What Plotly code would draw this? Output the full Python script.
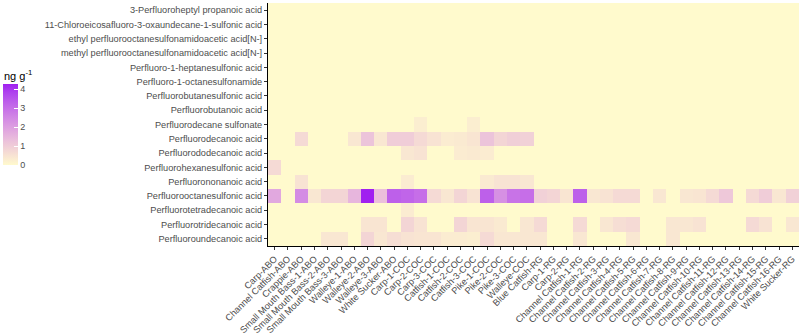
import plotly.graph_objects as go
import numpy as np

compounds = [
    "3-Perfluoroheptyl propanoic acid",
    "11-Chloroeicosafluoro-3-oxaundecane-1-sulfonic acid",
    "ethyl perfluorooctanesulfonamidoacetic acid[N-]",
    "methyl perfluorooctanesulfonamidoacetic acid[N-]",
    "Perfluoro-1-heptanesulfonic acid",
    "Perfluoro-1-octanesulfonamide",
    "Perfluorobutanesulfonic acid",
    "Perfluorobutanoic acid",
    "Perfluorodecane sulfonate",
    "Perfluorodecanoic acid",
    "Perfluorododecanoic acid",
    "Perfluorohexanesulfonic acid",
    "Perfluorononanoic acid",
    "Perfluorooctanesulfonic acid",
    "Perfluorotetradecanoic acid",
    "Perfluorotridecanoic acid",
    "Perfluoroundecanoic acid",
]

samples = [
    "Carp-ABO", "Channel Catfish-ABO", "Crappie-ABO", "Small Mouth Bass-1-ABO",
    "Small Mouth Bass-2-ABO", "Small Mouth Bass-3-ABO", "Walleye-1-ABO", "Walleye-2-ABO",
    "Walleye-3-ABO", "White Sucker-ABO",
    "Carp-1-COC", "Carp-2-COC", "Carp-3-COC", "Catfish-1-COC", "Catfish-2-COC",
    "Catfish-3-COC", "Pike-1-COC", "Pike-2-COC", "Pike-3-COC", "Walleye-COC",
    "Blue Catfish-RG", "Carp-1-RG", "Carp-2-RG",
    "Channel Catfish-1-RG", "Channel Catfish-2-RG", "Channel Catfish-3-RG",
    "Channel Catfish-4-RG", "Channel Catfish-5-RG", "Channel Catfish-6-RG",
    "Channel Catfish-7-RG", "Channel Catfish-8-RG", "Channel Catfish-9-RG",
    "Channel Catfish-10-RG", "Channel Catfish-11-RG", "Channel Catfish-12-RG",
    "Channel Catfish-13-RG", "Channel Catfish-14-RG", "Channel Catfish-15-RG",
    "Channel Catfish-16-RG", "White Sucker-RG",
]

# concentrations (ng/g), sparse: {sample index: value}
zero_row = {}
decane_sulfonate = {11: 0.25, 15: 0.25}
decanoic = {2: 0.7, 6: 0.4, 7: 1.2, 8: 0.4, 9: 1.0, 10: 1.0, 11: 0.7, 12: 0.5, 13: 0.3,
            14: 0.35, 15: 0.45, 16: 1.2, 17: 0.8, 18: 0.95, 19: 0.9}
dodecanoic = {10: 0.4, 11: 0.5, 14: 0.3, 15: 0.35, 16: 0.3}
hexanesulfonic = {0: 0.7}
nonanoic = {2: 0.5, 10: 0.3, 16: 0.35, 17: 0.5, 18: 0.5, 19: 0.4}
octanesulfonic = {0: 1.8, 2: 2.4, 3: 0.4, 4: 0.8, 5: 0.8, 6: 1.5, 7: 4.27, 8: 1.3, 9: 3.3,
                  10: 3.2, 11: 3.0, 12: 0.7, 13: 0.4, 14: 0.8, 15: 0.5, 16: 3.3, 17: 2.3,
                  18: 2.9, 19: 3.0, 20: 0.9, 21: 0.8, 22: 0.45, 23: 3.3, 24: 0.4, 25: 0.5,
                  26: 0.7, 27: 0.7, 29: 0.4, 31: 0.4, 32: 0.45, 33: 0.7, 34: 1.1, 36: 0.7,
                  37: 1.0, 38: 0.4, 39: 0.9}
tetradecanoic = {10: 0.3}
tridecanoic = {7: 0.45, 8: 0.45, 10: 0.8, 11: 0.5, 14: 0.8, 15: 0.45, 16: 0.45, 17: 0.35,
               19: 0.4, 20: 0.7, 23: 0.7, 25: 0.4, 26: 0.6, 27: 0.7, 30: 0.4, 31: 0.4,
               32: 0.5, 36: 0.7, 37: 0.5, 39: 0.4}
undecanoic = {4: 0.4, 5: 0.4, 7: 0.8, 8: 0.4, 9: 0.6, 10: 0.5, 11: 0.45, 12: 0.45, 13: 0.3,
              14: 0.3, 15: 0.25, 16: 0.7, 17: 0.4, 18: 0.4, 19: 0.4, 20: 0.4, 23: 0.4,
              27: 0.4, 30: 0.4}

rows = [zero_row] * 8 + [decane_sulfonate, decanoic, dodecanoic, hexanesulfonic, nonanoic,
                         octanesulfonic, tetradecanoic, tridecanoic, undecanoic]
z = [[r.get(i, 0.0) for i in range(len(samples))] for r in rows]


# Lab interpolation (like ggplot's gradient) between low and high colours
def hex2rgb(h):
    h = h.lstrip("#")
    return [int(h[i:i + 2], 16) / 255 for i in (0, 2, 4)]

def srgb2lin(c):
    return [x / 12.92 if x <= 0.04045 else ((x + 0.055) / 1.055) ** 2.4 for x in c]

def lin2srgb(c):
    return [12.92 * x if x <= 0.0031308 else 1.055 * x ** (1 / 2.4) - 0.055 for x in c]

M = np.array([[0.4124, 0.3576, 0.1805], [0.2126, 0.7152, 0.0722], [0.0193, 0.1192, 0.9505]])
WP = np.array([0.95047, 1.0, 1.08883])

def f(t):
    return t ** (1 / 3) if t > (6 / 29) ** 3 else t / (3 * (6 / 29) ** 2) + 4 / 29

def finv(t):
    return t ** 3 if t > 6 / 29 else 3 * (6 / 29) ** 2 * (t - 4 / 29)

def rgb2lab(c):
    xyz = M @ np.array(srgb2lin(c)) / WP
    fx, fy, fz = [f(v) for v in xyz]
    return np.array([116 * fy - 16, 500 * (fx - fy), 200 * (fy - fz)])

def lab2rgb(lab):
    L, a, b = lab
    fy = (L + 16) / 116
    fx = fy + a / 500
    fz = fy - b / 200
    xyz = np.array([finv(fx), finv(fy), finv(fz)]) * WP
    lin = np.linalg.solve(M, xyz)
    lin = np.clip(lin, 0, 1)
    s = lin2srgb(list(lin))
    return "rgb(%d,%d,%d)" % tuple(int(round(255 * min(max(v, 0), 1))) for v in s)

lo = rgb2lab(hex2rgb("#FFFACD"))
hi = rgb2lab(hex2rgb("#A020F0"))
colorscale = [[t, lab2rgb(lo + (hi - lo) * t)] for t in np.linspace(0, 1, 11)]

# layout geometry (pixels)
W, H = 800, 336
L_M, R_M, T_M, B_M = 268, 1, 3, 88
PW, PH = W - L_M - R_M, H - T_M - B_M

def px_x(px):
    return (px - L_M) / PW

def px_y(py):
    return (H - B_M - py) / PH

fig = go.Figure(go.Heatmap(
    z=z, x=samples, y=compounds,
    colorscale=colorscale, zmin=0, zmax=max(max(r) for r in z),
    xgap=0, ygap=0,
    colorbar=dict(
        x=px_x(3), xanchor="left", y=px_y(125.5), yanchor="middle",
        len=81, lenmode="pixels", thickness=15, thicknessmode="pixels",
        tickvals=[0, 1, 2, 3, 4], ticks="inside", tickcolor="white", ticklen=4,
        tickfont=dict(size=9, color="#4D4D4D"), outlinewidth=0, xpad=0, ypad=0,
    ),
))

fig.add_annotation(
    text="ng g<sup>-1</sup>", xref="paper", yref="paper",
    x=px_x(2), y=px_y(76), xanchor="left", yanchor="middle",
    showarrow=False, font=dict(size=11, color="#000000"),
)

fig.update_layout(
    width=W, height=H,
    margin=dict(l=L_M, r=R_M, t=T_M, b=B_M),
    paper_bgcolor="white", plot_bgcolor="white",
    font=dict(family="Liberation Sans, Arial, sans-serif", color="#4D4D4D"),
    xaxis=dict(tickangle=-45, tickfont=dict(size=9.2, color="#4D4D4D"),
               showline=True, linecolor="#000000", linewidth=1,
               ticks="outside", ticklen=3, tickcolor="#333333", showgrid=False,
               zeroline=False),
    yaxis=dict(autorange="reversed", tickfont=dict(size=9.2, color="#4D4D4D"),
               showline=True, linecolor="#000000", linewidth=1,
               ticks="outside", ticklen=3, tickcolor="#333333", showgrid=False,
               zeroline=False),
)

fig.write_html("out.html")
